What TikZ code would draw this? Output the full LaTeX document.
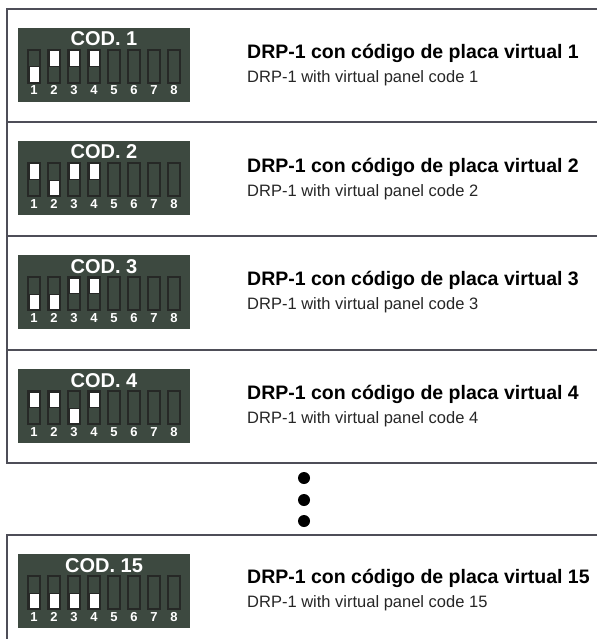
\documentclass[tikz,border=0pt]{standalone}
\usepackage{fontspec}
\setmainfont{Liberation Sans}

\definecolor{panel}{HTML}{3D4940}
\definecolor{slotline}{HTML}{262826}
\definecolor{frame}{HTML}{4E4E58}

\tikzset{
  frameline/.style={draw=frame, line width=1.3pt},
  slot/.style={draw=slotline, line width=1.3pt},
  lever/.style={fill=white, draw=slotline, line width=0.6pt},
  codlabel/.style={text=white, inner sep=0pt, font=\bfseries\fontsize{20}{20}\selectfont},
  numlabel/.style={text=white, inner sep=0pt, font=\bfseries\fontsize{13}{13}\selectfont},
  titlees/.style={inner sep=0pt, anchor=base west, font=\bfseries\fontsize{19.5}{21}\selectfont},
  titleen/.style={inner sep=0pt, anchor=base west, text=black!85, font=\fontsize{16.5}{17}\selectfont},
  dot/.style={circle, fill=black, inner sep=0pt, minimum size=12pt}
}

% #1 name, #2 row top, #3 code, #4 levers 1-4 (1 = down)
\newcommand{\dippanel}[4]{
  \fill[panel] (18,#2+19) rectangle (190,#2+93);
  \node[codlabel, anchor=base] (#1) at (104,#2+37) {COD. #3};
  \foreach \i in {1,...,8}
    \draw[slot] ({28+20*(\i-1)},#2+41) rectangle ++(12,33);
  \foreach \b [count=\i] in {#4}
    \draw[lever] ({28.8+20*(\i-1)},#2+41.8+16*\b) rectangle ++(10.4,15.4);
  \foreach \i in {1,...,8}
    \node[numlabel, anchor=base] (#1n\i) at ({34+20*(\i-1)},#2+86) {\i};
}

\begin{document}
\begin{tikzpicture}[x=1pt, y=-1pt]
  \useasboundingbox (0,0) rectangle (597,639);

  % marco
  \draw[frameline] (597,9) -- (7,9) -- (7,463) -- (597,463);
  \draw[frameline] (7,122) -- (597,122);
  \draw[frameline] (7,236) -- (597,236);
  \draw[frameline] (7,350) -- (597,350);
  \draw[frameline] (597,535) -- (7,535) -- (7,639);

  % paneles
  \dippanel{cod1}{9}{1}{1,0,0,0}
  \dippanel{cod2}{122}{2}{0,1,0,0}
  \dippanel{cod3}{236}{3}{1,1,0,0}
  \dippanel{cod4}{350}{4}{0,0,1,0}
  \dippanel{cod15}{535}{15}{1,1,1,1}

  % textos
  \node[titlees] (es1) at (247,59) {DRP-1 con código de placa virtual 1};
  \node[titleen] (en1) at (247,83) {DRP-1 with virtual panel code 1};
  \node[titlees] (es2) at (247,172) {DRP-1 con código de placa virtual 2};
  \node[titleen] (en2) at (247,196) {DRP-1 with virtual panel code 2};
  \node[titlees] (es3) at (247,285) {DRP-1 con código de placa virtual 3};
  \node[titleen] (en3) at (247,309) {DRP-1 with virtual panel code 3};
  \node[titlees] (es4) at (247,399) {DRP-1 con código de placa virtual 4};
  \node[titleen] (en4) at (247,423) {DRP-1 with virtual panel code 4};
  \node[titlees] (es15) at (247,583) {DRP-1 con código de placa virtual 15};
  \node[titleen] (en15) at (247,607) {DRP-1 with virtual panel code 15};

  % puntos
  \node[dot] (p1) at (304,478) {};
  \node[dot] (p2) at (304,500) {};
  \node[dot] (p3) at (304,521) {};
\end{tikzpicture}
\end{document}
